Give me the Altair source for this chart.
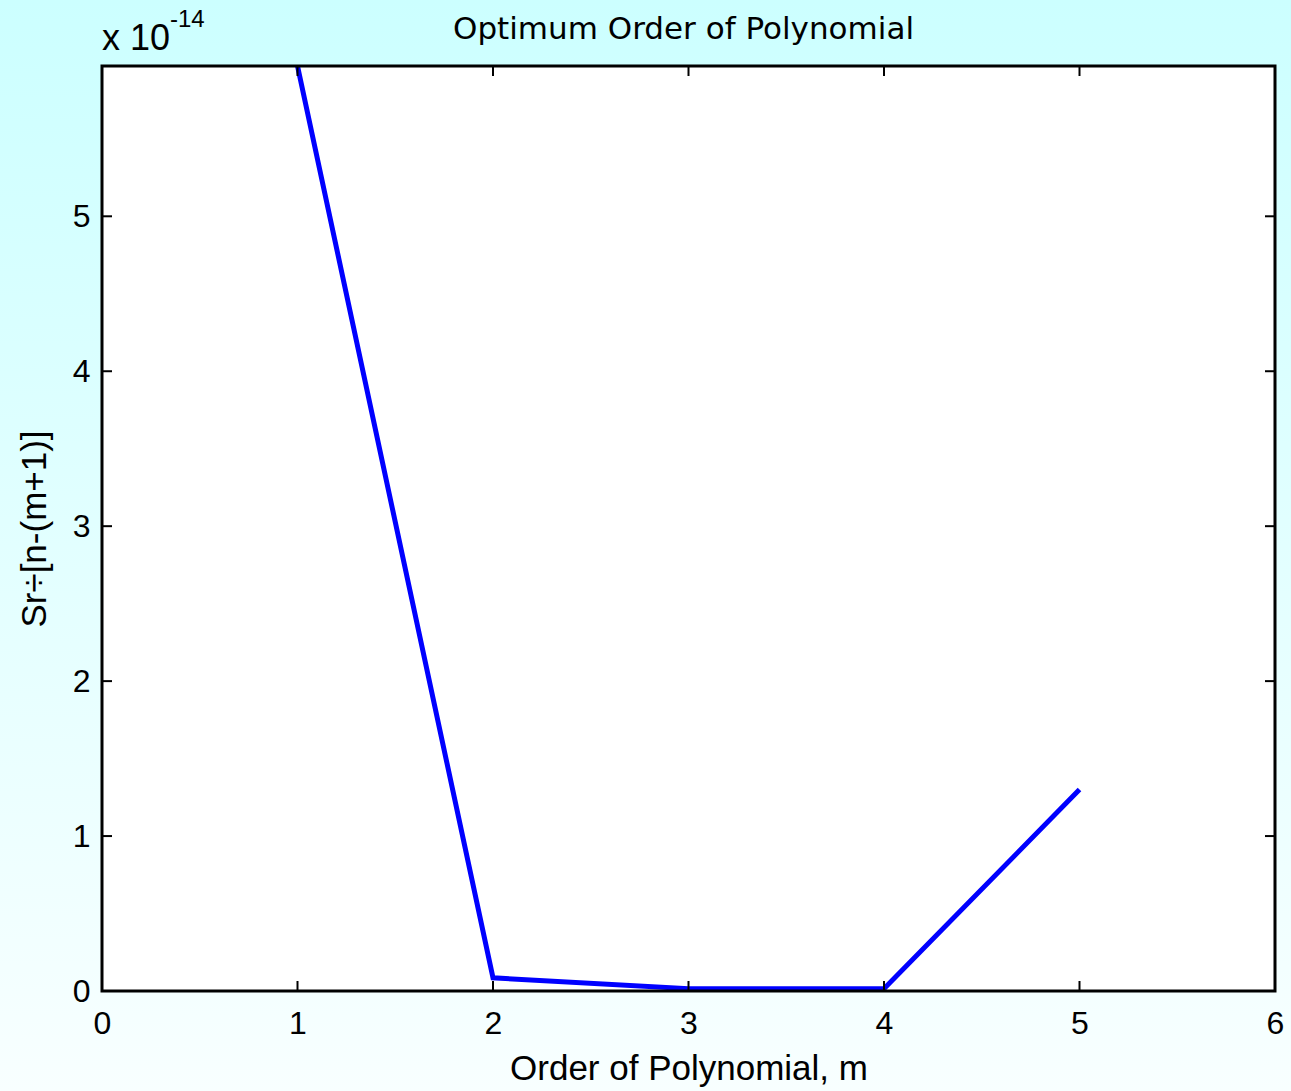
import altair as alt
import pandas as pd

# Polynomial order vs. normalised residual sum (units of 1e-14)
orders = [1, 2, 3, 4, 5]
sr_ratio = [5.97, 0.085, 0.015, 0.015, 1.30]

x_ticks = [0, 1, 2, 3, 4, 5, 6]
y_ticks = [0, 1, 2, 3, 4, 5]

W, H = 1173, 925
PAD = {"left": 102, "top": 66, "right": 16, "bottom": 100}
TICK = 10

line_df = pd.DataFrame({"m": orders, "sr": sr_ratio})
xt_df = pd.DataFrame({"m": x_ticks})
yt_df = pd.DataFrame({"sr": y_ticks})
one = pd.DataFrame({"a": [0]})

x_scale = alt.Scale(domain=[0, 6], nice=False, zero=False)
y_scale = alt.Scale(domain=[0, 5.97], nice=False, zero=False)

x_axis = alt.Axis(values=x_ticks, title="Order of Polynomial, m", format="d",
                  labelPadding=17, titlePadding=12, labelFlush=False, zindex=2)
y_axis = alt.Axis(values=y_ticks, title="Sr÷[n-(m+1)]", format="d",
                  labelPadding=12, titlePadding=20, labelFlush=False, zindex=2)

label_font = "Liberation Sans"

# figure background gradient (light cyan fading to near white)
backdrop = alt.Chart(one).mark_rect(
    clip=False,
    fill=alt.Gradient(
        gradient="linear",
        stops=[alt.GradientStop(color="#ccffff", offset=0),
               alt.GradientStop(color="#f8ffff", offset=1)],
        x1=0, x2=0, y1=0, y2=1,
    ),
).encode(
    x=alt.value(-PAD["left"]), x2=alt.value(W + PAD["right"]),
    y=alt.value(-PAD["top"]), y2=alt.value(H + PAD["bottom"]),
)

plot_bg = alt.Chart(one).mark_rect(fill="white").encode(
    x=alt.value(0), x2=alt.value(W), y=alt.value(0), y2=alt.value(H)
)

line = alt.Chart(line_df).mark_line(color="#0000ff", strokeWidth=5, clip=True).encode(
    x=alt.X("m:Q", scale=x_scale, axis=x_axis),
    y=alt.Y("sr:Q", scale=y_scale, axis=y_axis),
)

# inward-pointing ticks on all four sides
xt_bottom = alt.Chart(xt_df).mark_rule(color="black", strokeWidth=2).encode(
    x=alt.X("m:Q", scale=x_scale, axis=x_axis), y=alt.value(H), y2=alt.value(H - TICK)
)
xt_top = alt.Chart(xt_df).mark_rule(color="black", strokeWidth=2).encode(
    x=alt.X("m:Q", scale=x_scale, axis=x_axis), y=alt.value(0), y2=alt.value(TICK)
)
yt_left = alt.Chart(yt_df).mark_rule(color="black", strokeWidth=2).encode(
    y=alt.Y("sr:Q", scale=y_scale, axis=y_axis), x=alt.value(0), x2=alt.value(TICK)
)
yt_right = alt.Chart(yt_df).mark_rule(color="black", strokeWidth=2).encode(
    y=alt.Y("sr:Q", scale=y_scale, axis=y_axis), x=alt.value(W), x2=alt.value(W - TICK)
)

frame = alt.Chart(one).mark_rect(fill="transparent", stroke="black", strokeWidth=3).encode(
    x=alt.value(0), x2=alt.value(W), y=alt.value(0), y2=alt.value(H)
)

# chart heading
heading = alt.Chart(one).mark_text(
    text="Optimum Order of Polynomial", font="DejaVu Sans", fontSize=31,
    align="center", baseline="alphabetic", clip=False, color="black",
).encode(x=alt.value(W / 2 - 5), y=alt.value(-27))

# exponent label for the y axis
exp_base = alt.Chart(one).mark_text(
    text="x 10", font=label_font, fontSize=36, align="left", baseline="alphabetic", clip=False
).encode(x=alt.value(0), y=alt.value(-16))
exp_power = alt.Chart(one).mark_text(
    text="-14", font=label_font, fontSize=24, align="left", baseline="alphabetic", clip=False
).encode(x=alt.value(68), y=alt.value(-39))

chart = alt.layer(
    backdrop, plot_bg, line, xt_bottom, xt_top, yt_left, yt_right, frame,
    heading, exp_base, exp_power,
).properties(
    width=W,
    height=H,
    padding=PAD,
    autosize=alt.AutoSizeParams(type="none"),
    background="#e4ffff",
).configure_view(stroke=None).configure_axis(
    domain=False, ticks=False, grid=False,
    labelFont=label_font, labelFontSize=32, labelColor="black",
    titleFont=label_font, titleFontSize=35, titleFontWeight="normal", titleColor="black",
    labelAngle=0,
)

chart.save("out.html", embed_options={"renderer": "svg", "actions": False})
